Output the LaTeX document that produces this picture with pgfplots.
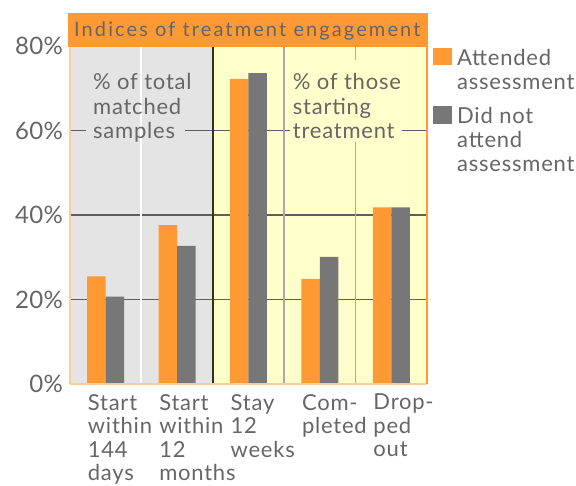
\documentclass[border=0pt]{standalone}
\usepackage{pgfplots}
\pgfplotsset{compat=1.18}
\usepackage{pgfplotstable}
\usepackage{fontspec}
\setmainfont{Lato}[LetterSpace=3.5]
\newfontfamily\ttlfont{Lato}[LetterSpace=10.5]
\newfontfamily\ytfont{Lato}[LetterSpace=1]
\definecolor{orng}{HTML}{FF9933}
\definecolor{barg}{HTML}{777777}
\definecolor{bgg}{HTML}{E4E4E4}
\definecolor{bgy}{HTML}{FFFFCC}
\definecolor{txt}{HTML}{666666}
\definecolor{gridc}{HTML}{5E5E5E}
\definecolor{lorng}{HTML}{FFCC99}
\definecolor{darksep}{HTML}{333319}
\definecolor{sepg}{HTML}{AAAAAA}
\newcommand\lbl{\fontsize{22}{23.5}\selectfont}
\newcommand\ttl{\ttlfont\fontsize{20}{23}\selectfont}
\newcommand\ytl{\ytfont\fontsize{24}{26}\selectfont}
\pgfplotstableread{
x att notatt
0 25.5 20.7
1 37.6 32.7
2 72.2 73.6
3 24.9 30.1
4 41.8 41.8
}\data
\begin{document}
\begin{tikzpicture}
\begin{axis}[
 at={(0pt,0pt)}, anchor=south west,
 scale only axis, width=357pt, height=338pt,
 set layers,
 xmin=-0.5, xmax=4.5, ymin=0, ymax=80,
 ybar=0pt, bar width=18.5pt,
 axis line style={draw=none},
 major tick length=0pt,
 /pgf/number format/assume math mode=true,
 ytick={0,20,40,60,80},
 yticklabel={\pgfmathprintnumber{\tick}\%},
 yticklabel style={font=\ytl, text=txt, inner sep=0pt, xshift=-7pt},
 xtick={0,1,2,3,4},
 xticklabels={{Start\\within\\144\\days},{Start\\within\\12\\months},{Stay\\12\\weeks},{Com-\\pleted},{Drop-\\ped\\out}},
 xticklabel style={font=\lbl, text=txt, align=left, anchor=north west, inner sep=0pt, xshift=-18pt, yshift=-10pt},
]
\begin{pgfonlayer}{axis background}
\fill[bgg] (axis cs:-0.5,0) rectangle (axis cs:1.5,80);
\fill[bgy] (axis cs:1.5,0) rectangle (axis cs:4.5,80);
\draw[gridc, line width=1.2pt] (axis cs:-0.5,20) -- (axis cs:4.5,20);
\draw[gridc, line width=1.2pt] (axis cs:-0.5,40) -- (axis cs:4.5,40);
\draw[gridc, line width=1.2pt] (axis cs:-0.5,60) -- (axis cs:4.5,60);
\end{pgfonlayer}
\draw[sepg, line width=1.8pt] (axis cs:2.5,0) -- (axis cs:2.5,80);
\draw[sepg, line width=1.8pt] (axis cs:3.5,0) -- (axis cs:3.5,80);
\fill[bgy] (axis cs:2.581,57.3) rectangle (axis cs:4.15,76.7);
\fill[bgg] (axis cs:-0.276,57.75) rectangle (axis cs:1.111,61.8);
\draw[white, line width=2pt] (axis cs:0.5,0) -- (axis cs:0.5,80);
\draw[darksep, line width=1.5pt] (axis cs:1.5,0) -- (axis cs:1.5,80);
\node[anchor=base west, inner sep=0pt, font=\lbl, text=txt] at (axis cs:-0.178,69.75) {\% of total};
\node[anchor=base west, inner sep=0pt, font=\lbl, text=txt] at (axis cs:-0.178,63.9) {matched};
\node[anchor=base west, inner sep=0pt, font=\lbl, text=txt] at (axis cs:-0.178,58.1) {samples};
\node[anchor=base west, inner sep=0pt, font=\lbl, text=txt] at (axis cs:2.619,69.75) {\% of those};
\node[anchor=base west, inner sep=0pt, font=\lbl, text=txt] at (axis cs:2.619,63.9) {starting};
\node[anchor=base west, inner sep=0pt, font=\lbl, text=txt] at (axis cs:2.619,58.1) {treatment};
\addplot[fill=orng, draw=none] table[x=x,y=att]{\data};
\addplot[fill=barg, draw=none] table[x=x,y=notatt]{\data};
\end{axis}
\draw[lorng, line width=1.5pt] (0pt,0pt) -- (0pt,338pt);
\draw[lorng, line width=1.5pt] (0pt,0pt) -- (357pt,0pt);
\draw[orng, line width=2pt] (357pt,0pt) -- (357pt,338pt);
\fill[orng] (-2pt,337pt) rectangle (358pt,371pt);
\node[anchor=base west, inner sep=0pt, font=\ttl, text=txt] at (4pt,347pt) {Indices of treatment engagement};
\fill[orng] (363pt,319pt) rectangle (382pt,336pt);
\node[anchor=base west, inner sep=0pt, font=\lbl, text=txt] at (387pt,318.5pt) {Attended};
\node[anchor=base west, inner sep=0pt, font=\lbl, text=txt] at (387pt,294pt) {assessment};
\fill[barg] (363pt,260pt) rectangle (382pt,278pt);
\node[anchor=base west, inner sep=0pt, font=\lbl, text=txt] at (387pt,260pt) {Did not};
\node[anchor=base west, inner sep=0pt, font=\lbl, text=txt] at (387pt,236pt) {attend};
\node[anchor=base west, inner sep=0pt, font=\lbl, text=txt] at (387pt,212pt) {assessment};
\pgfresetboundingbox
\useasboundingbox (-70pt,-101pt) rectangle (506pt,384pt);
\end{tikzpicture}
\end{document}
